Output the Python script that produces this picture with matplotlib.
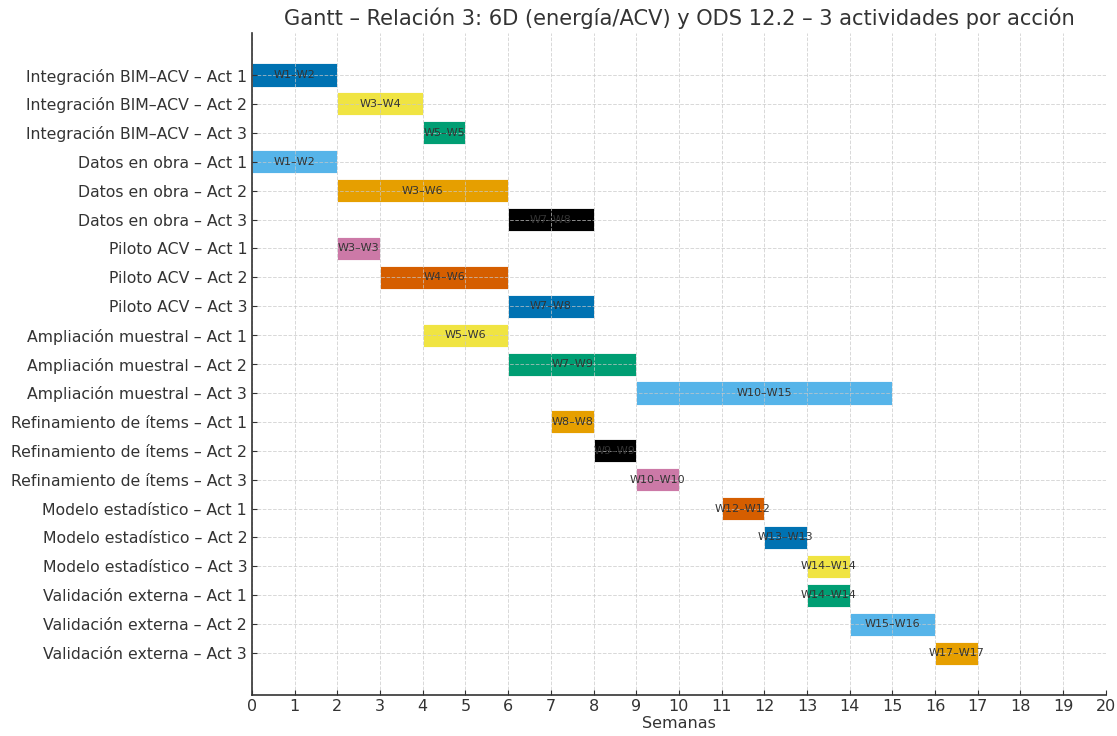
import numpy as np
from matplotlib import pyplot as plt

###
# Data
###

tasks = [
	"Integración BIM–ACV – Act 1", "Integración BIM–ACV – Act 2", "Integración BIM–ACV – Act 3",
	"Datos en obra – Act 1", "Datos en obra – Act 2", "Datos en obra – Act 3",
	"Piloto ACV – Act 1", "Piloto ACV – Act 2", "Piloto ACV – Act 3",
	"Ampliación muestral – Act 1", "Ampliación muestral – Act 2", "Ampliación muestral – Act 3",
	"Refinamiento de ítems – Act 1", "Refinamiento de ítems – Act 2", "Refinamiento de ítems – Act 3",
	"Modelo estadístico – Act 1", "Modelo estadístico – Act 2", "Modelo estadístico – Act 3",
	"Validación externa – Act 1", "Validación externa – Act 2", "Validación externa – Act 3",
]
start_week = [1, 3, 5, 1, 3, 7, 3, 4, 7, 5, 7, 10, 8, 9, 10, 12, 13, 14, 14, 15, 17]
end_week = [2, 4, 5, 2, 6, 8, 3, 6, 8, 6, 9, 15, 8, 9, 10, 12, 13, 14, 14, 16, 17]

# Okabe-Ito palette, cycled
palette = ["#0072B2", "#F0E442", "#009E73", "#56B4E9", "#E69F00", "#000000", "#CC79A7", "#D55E00"]

###
# Plotting
###

plt.rcParams['font.family'] = 'DejaVu Sans'
plt.rcParams['text.color'] = '#333333'
plt.rcParams['axes.labelcolor'] = '#333333'
plt.rcParams['xtick.color'] = '#333333'
plt.rcParams['ytick.color'] = '#333333'

fig = plt.figure(figsize=(11.17, 7.36), dpi=100)
ax = fig.add_axes([0.2256, 0.0557, 0.7644, 0.8993])

y = np.arange(len(tasks))
left = np.array(start_week) - 1
width = np.array(end_week) - left
colors = [palette[i % len(palette)] for i in range(len(tasks))]

ax.barh(y, width, left=left, height=0.8, color=colors, edgecolor='white', linewidth=0.6)

for yi, l, w, s, e in zip(y, left, width, start_week, end_week):
	ax.text(l + w / 2, yi, f"W{s}–W{e}", ha='center', va='center', fontsize=8, color='#333333')

ax.set_yticks(y)
ax.set_yticklabels(tasks, fontsize=11.3)
ax.set_ylim(len(tasks) - 1 + 1.45, -1.45)
ax.set_xlim(0, 20)
ax.set_xticks(range(0, 21))
ax.tick_params(axis='x', labelsize=11.5, direction='in', pad=3)
ax.tick_params(axis='y', direction='in')
ax.set_xlabel("Semanas", fontsize=11.5, labelpad=1)
ax.set_title("Gantt – Relación 3: 6D (energía/ACV) y ODS 12.2 – 3 actividades por acción", fontsize=15.1, color='#333333')

ax.grid(True, linestyle='--', color='#c8c8c8', alpha=0.7, linewidth=0.7)
for side in ['top', 'right']:
	ax.spines[side].set_visible(False)
for side in ['left', 'bottom']:
	ax.spines[side].set_color('#333333')
	ax.spines[side].set_linewidth(1.2)

fig.savefig('out.png', dpi=100)
